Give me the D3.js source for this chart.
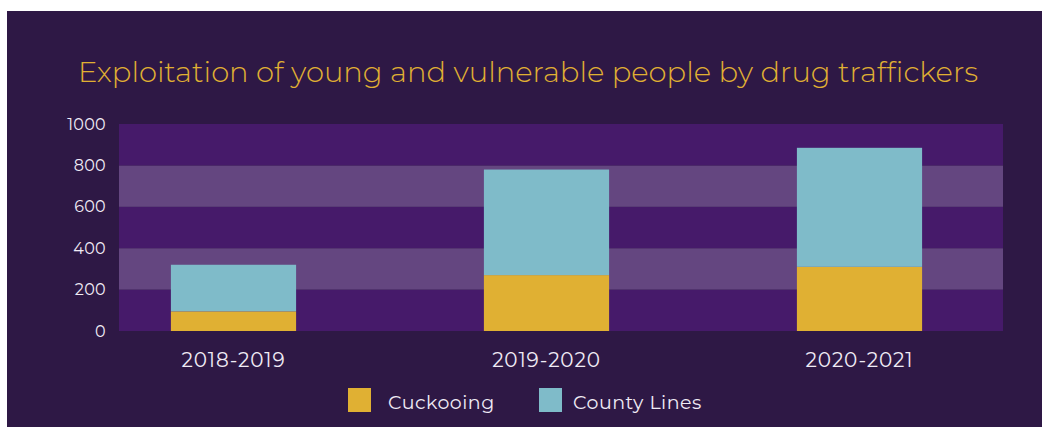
<!DOCTYPE html>
<html>
<head>
<meta charset="utf-8">
<script src="https://cdn.jsdelivr.net/npm/d3@7"></script>
<style>
  body { margin: 0; background: #ffffff; }
  svg { display: block; }
</style>
</head>
<body>
<svg id="chart" width="1042" height="427"></svg>
<script>
// data
var years = ['2018-2019', '2019-2020', '2020-2021']
var cuckooing = [95, 270, 310]
var countyLines = [225, 510, 575]
var yTicks = [0, 200, 400, 600, 800, 1000]
var seriesNames = ['Cuckooing', 'County Lines']
var seriesColors = ['#e0b033', '#7fbbc9']

var svg = d3.select('#chart')

// dark page background
svg.append('rect')
  .attr('x', 7).attr('y', 11)
  .attr('width', 1042 - 7).attr('height', 427 - 11)
  .style('fill', '#2e1845')

var plot = { l: 119, r: 1003, t: 124, b: 331 }

var yScale = d3.scaleLinear().domain([0, 1000]).range([plot.b, plot.t])
var xScale = d3.scaleBand().domain(years).range([77, 1016])
  .paddingInner(0.6).paddingOuter(0.3)

// alternating horizontal bands
for (var i = 0; i < yTicks.length - 1; i++) {
  svg.append('rect')
    .attr('x', plot.l)
    .attr('y', yScale(yTicks[i + 1]))
    .attr('width', plot.r - plot.l)
    .attr('height', yScale(yTicks[i]) - yScale(yTicks[i + 1]))
    .style('fill', i % 2 == 1 ? '#644680' : '#461a6a')
}

// stacked bars
var rows = years.map(function (y, i) {
  return { year: y, Cuckooing: cuckooing[i], 'County Lines': countyLines[i] }
})
var stacked = d3.stack().keys(seriesNames)(rows)

svg.selectAll('g.series')
  .data(stacked)
  .enter()
  .append('g')
  .attr('class', 'series')
  .style('fill', function (d, i) { return seriesColors[i] })
  .selectAll('rect')
  .data(function (d) { return d })
  .enter()
  .append('rect')
  .attr('x', function (d) { return xScale(d.data.year) })
  .attr('width', xScale.bandwidth())
  .attr('y', function (d) { return yScale(d[1]) })
  .attr('height', function (d) { return yScale(d[0]) - yScale(d[1]) })

// y axis labels
var yAxis = d3.axisLeft(yScale).tickValues(yTicks).tickFormat(d3.format('d'))
  .tickSize(0).tickPadding(0)
var yG = svg.append('g').attr('transform', 'translate(106,0)').call(yAxis)
yG.select('.domain').remove()
yG.selectAll('text')
  .style('fill', '#f0ebf5')
  .style('font-family', 'Montserrat, "Open Sans", sans-serif')
  .style('font-size', '16px')
  .style('letter-spacing', '0.3px')

// x axis labels
var xAxis = d3.axisBottom(xScale).tickSize(0).tickPadding(0)
var xG = svg.append('g').attr('transform', 'translate(0,' + 353 + ')').call(xAxis)
xG.select('.domain').remove()
xG.selectAll('text')
  .style('fill', '#f0ebf5')
  .style('font-family', 'Montserrat, "Open Sans", sans-serif')
  .style('font-size', '20px')
  .style('letter-spacing', '0.9px')

// title
svg.append('text')
  .attr('x', 528).attr('y', 82)
  .attr('text-anchor', 'middle')
  .style('fill', '#e0b033')
  .style('font-family', 'Montserrat, "Open Sans", sans-serif')
  .style('font-weight', 300)
  .style('font-size', '29px')
  .text('Exploitation of young and vulnerable people by drug traffickers')

// legend
var legendX = [348, 539]
var legendTextX = [40, 34]
var legend = svg.selectAll('g.legend')
  .data(seriesNames)
  .enter()
  .append('g')
  .attr('class', 'legend')
  .attr('transform', function (d, i) { return 'translate(' + legendX[i] + ',388)' })

legend.append('rect')
  .attr('width', 23).attr('height', 24)
  .style('fill', function (d, i) { return seriesColors[i] })

legend.append('text')
  .attr('x', function (d, i) { return legendTextX[i] })
  .attr('y', 21)
  .style('fill', '#f0ebf5')
  .style('font-family', 'Montserrat, "Open Sans", sans-serif')
  .style('font-size', '19px')
  .style('letter-spacing', '0.5px')
  .text(function (d) { return d })
</script>
</body>
</html>
